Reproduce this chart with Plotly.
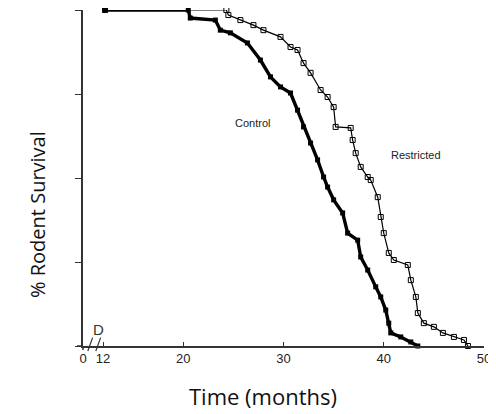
import plotly.graph_objects as go

# Time axis: the broken-axis "0" tick sits at position 10 on the linear scale
tick_positions = [10, 12, 20, 30, 40, 50]
tick_labels = ["0", "12", "20", "30", "40", "50"]
survival_ticks = [0, 25, 50, 75, 100]

control_time = [12.2, 20.5, 20.7, 23.2, 23.7, 24.7, 26.4, 27.7, 28.7, 29.7, 30.7, 31.4,
                32.0, 32.7, 33.4, 34.0, 34.4, 35.0, 35.9, 36.4, 37.4, 37.7, 38.4, 39.2,
                39.7, 40.2, 40.5, 40.7, 41.7, 42.7, 43.4]
control_surv = [100, 100, 97.6, 97.0, 94.0, 93.2, 90.2, 85.1, 80.1, 77.1, 75.3, 70.2,
                65.2, 60.4, 55.4, 50.3, 47.3, 43.5, 39.6, 33.6, 31.5, 26.5, 22.6, 17.6,
                14.6, 10.7, 6.8, 3.9, 2.7, 1.2, 0]

restricted_time = [12.2, 24.3, 24.5, 25.7, 27.0, 28.0, 29.7, 30.7, 31.4, 32.0, 32.7, 33.7,
                   34.4, 35.0, 35.2, 36.7, 36.9, 37.2, 37.7, 38.4, 38.7, 39.4, 39.7, 40.0,
                   40.5, 41.0, 42.4, 42.7, 43.2, 43.4, 44.0, 45.0, 45.9, 47.0, 48.0, 48.4]
restricted_surv = [100, 100, 98.5, 97.0, 95.5, 94.0, 92.0, 89.0, 88.1, 84.2, 81.3, 76.2,
                   74.1, 71.1, 65.2, 64.9, 61.3, 57.4, 53.3, 50.3, 49.4, 44.3, 38.4, 33.6,
                   27.7, 25.6, 24.1, 19.6, 14.6, 9.8, 6.8, 5.7, 3.9, 2.7, 1.8, 0]

fig = go.Figure()
fig.add_trace(go.Scatter(
    x=restricted_time, y=restricted_surv, mode="lines+markers", name="Restricted",
    line=dict(color="black", width=1.2),
    marker=dict(symbol="square-open", size=5, color="black", line=dict(width=1)),
    cliponaxis=False,
))
fig.add_trace(go.Scatter(
    x=control_time, y=control_surv, mode="lines+markers", name="Control",
    line=dict(color="black", width=3.4),
    marker=dict(symbol="square", size=5, color="black"),
    cliponaxis=False,
))

# page has an 8px body margin; figure is sized so plot area lands at x 83..484, y 10..346
OFF = 8
FIG_W, FIG_H = 496 - OFF, 414 - OFF
L, T = 83 - OFF, 10 - OFF
R = FIG_W - (484 - OFF)
B = FIG_H - (346 - OFF)
plot_w, plot_h = FIG_W - L - R, FIG_H - T - B

axis_color = "#333333"
fig.update_layout(
    width=FIG_W, height=FIG_H,
    margin=dict(l=L, r=R, t=T, b=B, autoexpand=False),
    paper_bgcolor="white", plot_bgcolor="white",
    showlegend=False,
    font=dict(family="Liberation Sans, Arial, sans-serif", color="#222222"),
    xaxis=dict(
        range=[10, 50], tickmode="array", tickvals=tick_positions, ticktext=tick_labels,
        showline=True, linecolor=axis_color, linewidth=1.5, showgrid=False, zeroline=False,
        ticks="inside", ticklen=4, tickcolor=axis_color, tickwidth=1.2,
        tickfont=dict(size=13, color="#222222"), automargin=False,
    ),
    yaxis=dict(
        range=[0, 100], tickmode="array", tickvals=survival_ticks, showticklabels=False,
        showline=True, linecolor=axis_color, linewidth=1.5, showgrid=False, zeroline=False,
        ticks="outside", ticklen=6, tickcolor=axis_color, tickwidth=1.2, automargin=False,
    ),
)


def px(x, y):
    """screen pixel -> paper coordinates"""
    return (x - 83) / plot_w, (346 - y) / plot_h


tx, ty = px(263, 396)
fig.add_annotation(x=tx, y=ty, xref="paper", yref="paper", text="Time (months)",
                   showarrow=False, xanchor="center", yanchor="middle",
                   font=dict(family="Open Sans, sans-serif", size=22, color="#111111"))
tx, ty = px(37, 215)
fig.add_annotation(x=tx, y=ty, xref="paper", yref="paper",
                   text="% Rodent Survival", showarrow=False, textangle=-90,
                   xanchor="center", yanchor="middle",
                   font=dict(family="Open Sans, sans-serif", size=20, color="#111111"))

# axis cross overhangs and the "//" axis break
fig.add_shape(type="line", xref="paper", yref="paper", x0=-0.015, x1=0, y0=0, y1=0,
              line=dict(color=axis_color, width=1.5))
fig.add_shape(type="line", xref="paper", yref="paper", x0=0, x1=0, y0=-0.012, y1=0,
              line=dict(color=axis_color, width=1.5))
for x0 in [0.012, 0.032]:
    fig.add_shape(type="line", xref="paper", yref="paper", x0=x0, x1=x0 + 0.012,
                  y0=-0.015, y1=0.025, line=dict(color=axis_color, width=1.2))

tx, ty = px(98, 329)
fig.add_annotation(x=tx, y=ty, xref="paper", yref="paper",
                   text="D", showarrow=False, xanchor="center", yanchor="middle",
                   font=dict(size=15, color="#333333"))
fig.add_annotation(x=26.9, y=66.5, text="Control", showarrow=False,
                   font=dict(size=11, color="#222222"))
fig.add_annotation(x=43.2, y=56.8, text="Restricted", showarrow=False,
                   font=dict(size=11, color="#222222"))

fig.write_html("out.html")
